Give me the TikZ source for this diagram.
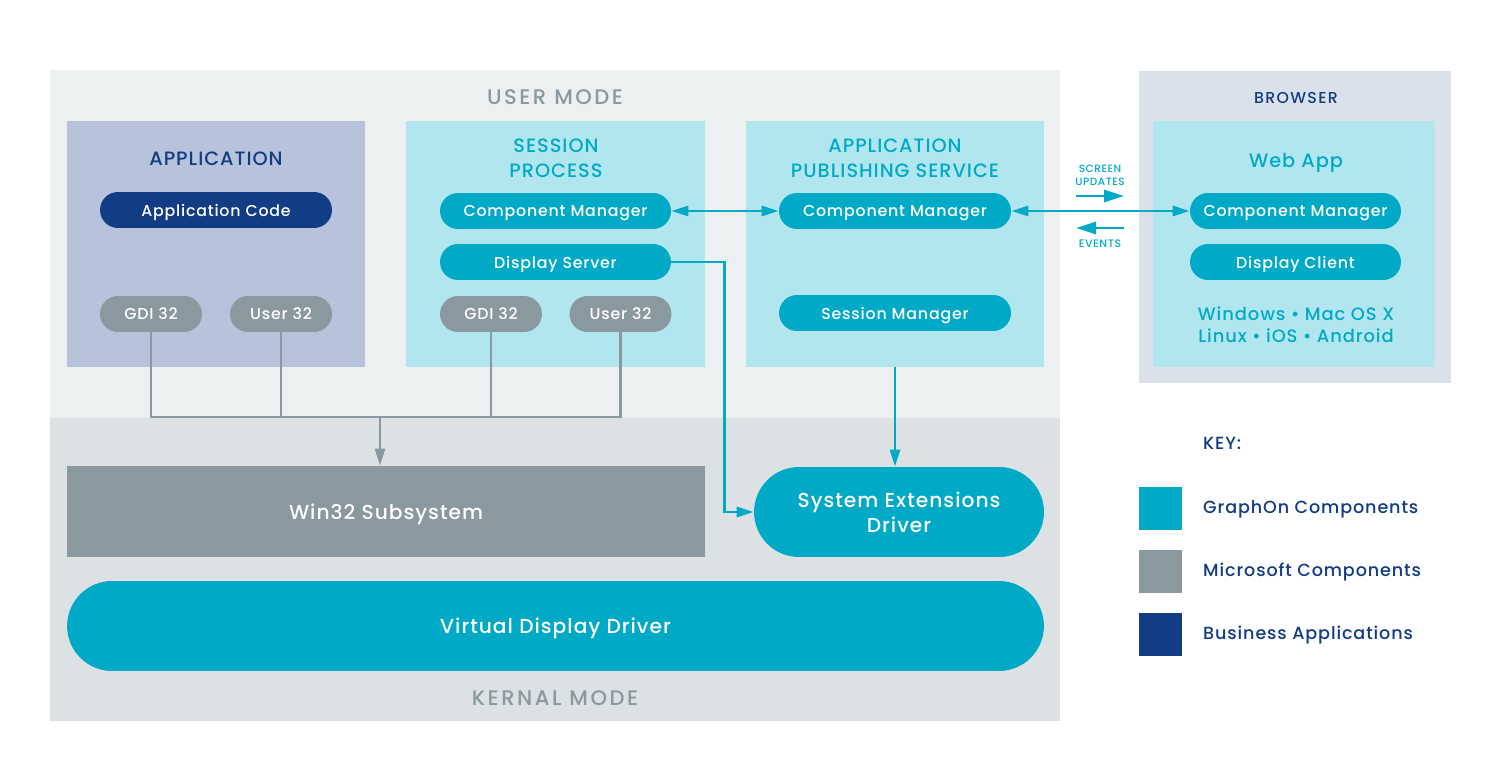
\documentclass[tikz,border=0pt]{standalone}
\usepackage{fontspec}
\setmainfont{Poppins}[UprightFont=* Medium, LetterSpace=5]
\usetikzlibrary{arrows.meta}

%% 颜色
\definecolor{usrbg}{HTML}{ECF0F1}
\definecolor{krnbg}{HTML}{DCE1E3}
\definecolor{appbg}{HTML}{B6C3DA}
\definecolor{lcyan}{HTML}{B2E6EF}
\definecolor{gcyan}{HTML}{00AAC6}
\definecolor{msgray}{HTML}{8A999F}
\definecolor{bizblue}{HTML}{123C84}
\definecolor{brwbg}{HTML}{DAE1EB}

\tikzset{
  panel/.style={inner sep=0, draw=none},
  pill/.style={rounded corners=0.36cm, minimum height=0.72cm, inner sep=0,
    text depth=0pt, text=white, font=\fontsize{9}{10}\selectfont},
  head/.style={align=center, font=\fontsize{11}{14}\selectfont},
  modelab/.style={text=msgray, font=\fontsize{12}{14}\selectfont\addfontfeatures{LetterSpace=12}},
  keylab/.style={anchor=west, text depth=0pt, text=bizblue, font=\fontsize{10}{11}\selectfont},
  gline/.style={draw=msgray, line width=1.6pt},
  cline/.style={draw=gcyan, line width=1.6pt},
  tip/.tip={Triangle[length=3.4mm, width=2mm]},
}

\begin{document}
\begin{tikzpicture}[x=0.02cm, y=-0.02cm]

\useasboundingbox (0,0) rectangle (1500,780);

%% 背景区域
\node[panel, fill=usrbg, minimum width=20.2cm, minimum height=6.96cm] (user) at (555,244) {};
\node[panel, fill=krnbg, minimum width=20.2cm, minimum height=6.06cm] (kernel) at (555,569.5) {};
\node[panel, fill=brwbg, minimum width=6.24cm, minimum height=6.24cm] (browser) at (1295,227) {};

\node[modelab] (usrlab) at (555,97) {USER MODE};
\node[modelab] (krnlab) at (555,698) {KERNAL MODE};
\node[head, text=bizblue, font=\fontsize{9}{10}\selectfont\addfontfeatures{LetterSpace=8}] (brwlab) at (1296,98) {BROWSER};

%% 三个进程框 + 浏览器内框
\node[panel, fill=appbg, minimum width=5.96cm, minimum height=4.92cm] (app) at (216,244) {};
\node[panel, fill=lcyan, minimum width=5.98cm, minimum height=4.92cm] (sess) at (555.5,244) {};
\node[panel, fill=lcyan, minimum width=5.96cm, minimum height=4.92cm] (aps) at (895,244) {};
\node[panel, fill=lcyan, minimum width=5.64cm, minimum height=4.92cm] (web) at (1294,244) {};

\node[head, text=bizblue] (applab) at (216,159) {APPLICATION};
\node[head, text=gcyan] (sesslab) at (556,158) {SESSION\\PROCESS};
\node[head, text=gcyan] (apslab) at (895,158) {APPLICATION\\PUBLISHING SERVICE};
\node[head, text=gcyan, text depth=0pt] (weblab) at (1296,160) {Web App};

%% 圆角按钮
\node[pill, fill=bizblue, minimum width=4.64cm] (appcode) at (216,210) {Application Code};
\node[pill, fill=msgray, minimum width=2.04cm] (gdiA) at (151,314) {GDI 32};
\node[pill, fill=msgray, minimum width=2.04cm] (userA) at (281,314) {User 32};

\node[pill, fill=gcyan, minimum width=4.62cm] (cmS) at (555.5,211) {Component Manager};
\node[pill, fill=gcyan, minimum width=4.62cm] (disp) at (555.5,262) {Display Server};
\node[pill, fill=msgray, minimum width=2.04cm] (gdiB) at (491,314) {GDI 32};
\node[pill, fill=msgray, minimum width=2.04cm] (userB) at (620.5,314) {User 32};

\node[pill, fill=gcyan, minimum width=4.64cm] (cmA) at (895,211) {Component Manager};
\node[pill, fill=gcyan, minimum width=4.64cm] (smgr) at (895,313) {Session Manager};

\node[pill, fill=gcyan, minimum width=4.22cm] (cmW) at (1295.5,211) {Component Manager};
\node[pill, fill=gcyan, minimum width=4.22cm] (dclient) at (1295.5,262) {Display Client};
\node[head, text=gcyan, font=\fontsize{10.2}{12.5}\selectfont] (oslab) at (1296,324.5) {Windows • Mac OS X\\Linux • iOS • Android};

%% 内核层
\node[panel, fill=msgray, minimum width=12.76cm, minimum height=1.82cm, text=white,
  text depth=0pt, font=\fontsize{11.5}{13}\selectfont] (win) at (386,511.5) {Win32 Subsystem};
\node[pill, fill=gcyan, minimum width=5.8cm, minimum height=1.8cm, rounded corners=0.9cm,
  align=center, font=\fontsize{11.5}{14.5}\selectfont] (sysext) at (899,512) {System Extensions\\Driver};
\node[pill, fill=gcyan, minimum width=19.54cm, minimum height=1.8cm, rounded corners=0.9cm,
  font=\fontsize{11.5}{13}\selectfont] (vdd) at (555.5,626) {Virtual Display Driver};

%% 图例
\node[keylab] (keylab) at (1197,443) {KEY:};
\node[panel, fill=gcyan, minimum size=0.86cm] (k1) at (1160.5,508.5) {};
\node[panel, fill=msgray, minimum size=0.86cm] (k2) at (1160.5,571.5) {};
\node[panel, fill=bizblue, minimum size=0.86cm] (k3) at (1160.5,634.5) {};
\node[keylab] (kt1) at (1197,507) {GraphOn Components};
\node[keylab] (kt2) at (1197,570) {Microsoft Components};
\node[keylab] (kt3) at (1197,633) {Business Applications};

%% 灰色连线 -> Win32
\coordinate (bus) at (380,417);
\draw[gline] (gdiA.south) -- (gdiA.south |- bus) -- (userB.south |- bus) -- (userB.south);
\draw[gline] (userA.south) -- (userA.south |- bus);
\draw[gline] (gdiB.south) -- (gdiB.south |- bus);
\draw[gline, -{Triangle[length=3.4mm, width=2mm]}] (bus) -- (bus |- win.north);

%% 青色连线
\draw[cline, tip-tip] (cmS.east) -- (cmA.west);
\draw[cline, tip-tip] (cmA.east) -- (cmW.west);
\draw[cline, -tip] (disp.east) -- ++(53,0) |- (sysext.west);
\draw[cline, -tip] (aps.south) -- (aps.south |- sysext.north);

%% 屏幕更新 / 事件
\coordinate (suL) at (1076,196);
\coordinate (suR) at (1124,196);
\coordinate (evL) at (1076,228);
\coordinate (evR) at (1124,228);
\draw[cline, -{Triangle[length=4mm, width=2.4mm]}] (suL) -- (suR);
\draw[cline, -{Triangle[length=4mm, width=2.4mm]}] (evR) -- (evL);
\node[text=gcyan, align=center, font=\fontsize{6}{7.5}\selectfont] (sulab) at (1100,175) {SCREEN\\UPDATES};
\node[text=gcyan, font=\fontsize{6.2}{7.5}\selectfont] (evlab) at (1100,244) {EVENTS};

\end{tikzpicture}
\end{document}
